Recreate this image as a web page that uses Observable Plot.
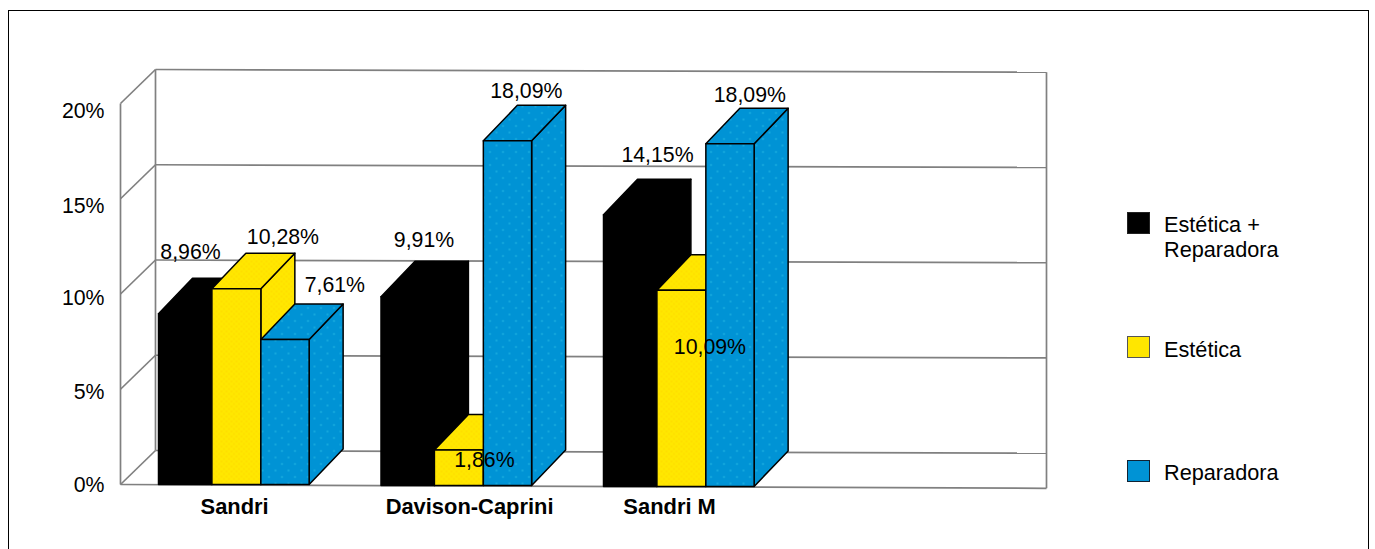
<!DOCTYPE html>
<html>
<head>
<meta charset="utf-8">
<script src="https://cdn.jsdelivr.net/npm/d3@7"></script>
<script src="https://cdn.jsdelivr.net/npm/@observablehq/plot@0.6"></script>
<style>
  html, body { margin: 0; padding: 0; background: #fff; }
  #page { position: relative; width: 1375px; height: 549px; overflow: hidden; font-family: "Liberation Sans", Arial, sans-serif; color: #000; }
  #frame { position: absolute; left: 8px; top: 10px; width: 1361px; height: 560px; border: 1.5px solid #000; box-sizing: border-box; }
  #chart { position: absolute; left: 0; top: 0; }
  #chart svg { display: block; background: transparent; }
  .item { position: absolute; left: 1127px; font-size: 21.7px; line-height: 25px; }
  .swatch { position: absolute; left: 0; width: 23px; height: 22px; box-sizing: border-box; border: 1.5px solid #555; }
  .name { position: absolute; left: 37px; white-space: nowrap; }
</style>
</head>
<body>
<div id="page">
  <div id="frame"></div>
  <div id="chart"></div>
  <div class="item" style="top:212px"><div class="swatch" style="background:#000;border-color:#222"></div><div class="name" style="top:0px">Estética +<br>Reparadora</div></div>
  <div class="item" style="top:336px"><div class="swatch" style="background:#FFE600"></div><div class="name" style="top:1px">Estética</div></div>
  <div class="item" style="top:460px"><div class="swatch" style="background:#0093D5;border-color:#123"></div><div class="name" style="top:0px">Reparadora</div></div>
</div>
<script>
// ---- data ----
const categories = ["Sandri", "Davison-Caprini", "Sandri M"];
const seriesNames = ["Estética + Reparadora", "Estética", "Reparadora"];
const esteticaReparadora = [8.96, 9.91, 14.15];
const estetica = [10.28, 1.86, 10.09];
const reparadora = [7.61, 18.09, 18.09];
const yTicks = [0, 5, 10, 15, 20];

// ---- layout, in scale units (1 x unit = one category, 1 y unit = one percent) ----
const pxX = 222.5, pxY = 19.05;
const depthX = 34 / pxX, depthY = 35.5 / pxY;
const seriesEdges = [[0, 0.24], [0.24, 0.46], [0.46, 0.677]];
const groupBase = [0, -0.05, -0.1];
const topNudgePx = [
  [0, 0, 0],
  [0, 0, 0],
  [2, 4, -2]
];
const catLabelX = [0.342, 1.398, 2.297];
const labelNudgePx = [
  [[32, -62], [71, -51], [74, -54]],
  [[43, -56], [50, 10], [43, -50]],
  [[54, -60], [53, 57], [44, -49]]
];
const tickLabelPos = [0, 4.88, 9.82, 14.65, 19.63];
const valuesBySeries = [esteticaReparadora, estetica, reparadora];
const fmt = v => v.toFixed(2).replace(".", ",") + "%";

// faces of the 3D bars, painted back to front
const polys = [];
const valueLabels = [];
categories.forEach((cat, g) => {
  seriesNames.forEach((name, s) => {
    const v = valuesBySeries[s][g];
    const x0 = g + seriesEdges[s][0], x1 = g + seriesEdges[s][1];
    const b = groupBase[g], t = v + b + topNudgePx[g][s] / pxY;
    const face = (kind, pts) => pts.concat([pts[0]]).forEach(([x, y]) =>
      polys.push({id: `${g}-${s}-${kind}`, series: name, x, y}));
    face("side", [[x1, b], [x1 + depthX, b + depthY], [x1 + depthX, t + depthY], [x1, t]]);
    face("top", [[x0, t], [x1, t], [x1 + depthX, t + depthY], [x0 + depthX, t + depthY]]);
    face("front", [[x0, b], [x1, b], [x1, t], [x0, t]]);
    const [nx, ny] = labelNudgePx[g][s];
    valueLabels.push({x: x0 + nx / pxX, y: t - ny / pxY, text: fmt(v)});
  });
});

// walls: x domain runs from the front-left corner to the right edge of the back wall
const xLeft = -38 / pxX, xRight = (1046 - 158) / pxX, xBack = xLeft + 35 / pxX;
const backY = 34 / pxY, drift = 0.14;
const gridLines = yTicks.map(v => ({x1: xBack, y1: v + backY, x2: xRight, y2: v + backY - drift}));
const diagonals = yTicks.map(v => ({x1: xLeft, y1: v, x2: xBack, y2: v + backY}));
const uprights = [
  {x1: xLeft, y1: 0, x2: xLeft, y2: 20},
  {x1: xBack, y1: backY, x2: xBack, y2: 20 + backY},
  {x1: xRight, y1: -0.2, x2: xRight, y2: 20 + backY - drift}
];
const floorEdge = [{x1: xLeft, y1: 0, x2: xRight, y2: -0.2}];

const patterns = () => {
  const defs = d3.create("svg:defs");
  const blue = defs.append("pattern").attr("id", "blueFill").attr("patternUnits", "userSpaceOnUse")
    .attr("width", 13).attr("height", 13);
  blue.append("rect").attr("width", 13).attr("height", 13).attr("fill", "#0093D5");
  [[2, 2], [8.5, 8.5]].forEach(([cx, cy]) =>
    blue.append("circle").attr("cx", cx).attr("cy", cy).attr("r", 0.8).attr("fill", "#2FC0E6"));
  const yellow = defs.append("pattern").attr("id", "yellowFill").attr("patternUnits", "userSpaceOnUse")
    .attr("width", 5).attr("height", 5);
  yellow.append("rect").attr("width", 5).attr("height", 5).attr("fill", "#FFE800");
  [[1, 1], [3.5, 3.5]].forEach(([cx, cy]) =>
    yellow.append("circle").attr("cx", cx).attr("cy", cy).attr("r", 0.9).attr("fill", "#FFD900"));
  return defs.node();
};

const textStyle = {fontSize: 21.3, fill: "#000", lineAnchor: "middle", stroke: null};
const wall = {x1: "x1", y1: "y1", x2: "x2", y2: "y2", stroke: "#808080", strokeWidth: 1.7};

const plot = Plot.plot({
  width: 1375,
  height: 549,
  margin: 0,
  style: {fontFamily: '"Liberation Sans", Arial, sans-serif', background: "transparent"},
  x: {domain: [xLeft, xRight], range: [120, 1046], axis: null},
  y: {domain: [0, 20], range: [484, 103], axis: null},
  color: {type: "ordinal", domain: seriesNames, range: ["#000000", "url(#yellowFill)", "url(#blueFill)"]},
  marks: [
    patterns,
    Plot.link(gridLines, wall),
    Plot.link(diagonals, wall),
    Plot.link(uprights, wall),
    Plot.link(floorEdge, wall),
    Plot.line(polys, {x: "x", y: "y", z: "id", fill: "series", stroke: "#000", strokeWidth: 1.5, strokeLinejoin: "round"}),
    Plot.text(yTicks, {x: xLeft, y: (v, i) => tickLabelPos[i], text: v => v + "%", dx: -16, dy: 1, textAnchor: "end", ...textStyle}),
    Plot.text(categories, {x: (d, i) => catLabelX[i], y: -1.2, text: d => d, fontWeight: "bold", fontSize: 21.9, lineAnchor: "middle", fill: "#000"}),
    Plot.text(valueLabels, {x: "x", y: "y", text: "text", ...textStyle})
  ]
});
document.getElementById("chart").appendChild(plot);
</script>
</body>
</html>
